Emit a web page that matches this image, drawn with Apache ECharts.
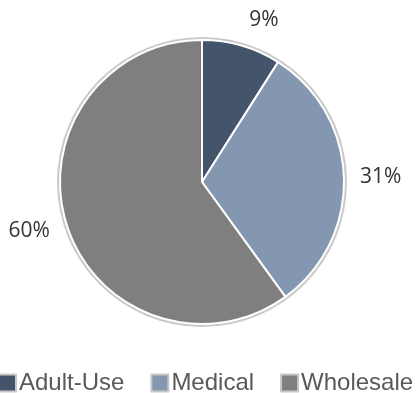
<!DOCTYPE html>
<html>
<head>
<meta charset="utf-8">
<script src="https://cdn.jsdelivr.net/npm/echarts@6/dist/echarts.min.js"></script>
<style>
  html, body { margin: 0; padding: 0; background: #ffffff; }
  #chart { width: 416px; height: 393px; }
</style>
</head>
<body>
<div id="chart"></div>
<script>
// Revenue mix by channel (percent of total)
const categories = ['Adult-Use', 'Medical', 'Wholesale'];
const shares = [9, 31, 60];
const sliceColors = ['#44546A', '#8497B0', '#7F7F7F'];
// Leader length per slice so each percentage sits just outside its wedge
const labelReach = [27, 16, 18];

const chart = echarts.init(document.getElementById('chart'), null, { renderer: 'canvas' });

const slices = categories.map((name, i) => ({
  name: name,
  value: shares[i],
  itemStyle: { color: sliceColors[i] },
  labelLine: { show: false, length: labelReach[i], length2: 0 }
}));

const total = shares.reduce((a, b) => a + b, 0);

chart.setOption({
  animation: false,
  backgroundColor: '#ffffff',
  legend: {
    data: categories,
    left: -2,
    top: 371,
    width: 440,
    padding: 0,
    icon: 'rect',
    itemWidth: 17,
    itemHeight: 17,
    itemGap: 26,
    itemStyle: { borderColor: '#c8c8c8', borderWidth: 2 },
    textStyle: { fontFamily: 'Liberation Sans, Arial, sans-serif', fontSize: 24, color: '#595959', padding: [0, 0, 0, -2] }
  },
  series: [
    {
      // thin outline ring around the whole pie
      type: 'pie',
      silent: true,
      center: [202, 182],
      radius: [0, 145],
      startAngle: 90,
      z: 1,
      label: { show: false },
      labelLine: { show: false },
      itemStyle: { color: '#cacaca' },
      data: [{ name: '', value: total }]
    },
    {
      type: 'pie',
      center: [202, 182],
      radius: [0, 142],
      startAngle: 90,
      clockwise: true,
      z: 2,
      avoidLabelOverlap: false,
      itemStyle: { borderColor: '#ffffff', borderWidth: 2 },
      label: {
        show: true,
        position: 'outside',
        distanceToLabelLine: 0,
        formatter: p => p.value + '%',
        fontFamily: 'Open Sans, sans-serif',
        fontSize: 21,
        color: '#333333'
      },
      emphasis: { disabled: true },
      data: slices
    }
  ]
});
</script>
</body>
</html>
